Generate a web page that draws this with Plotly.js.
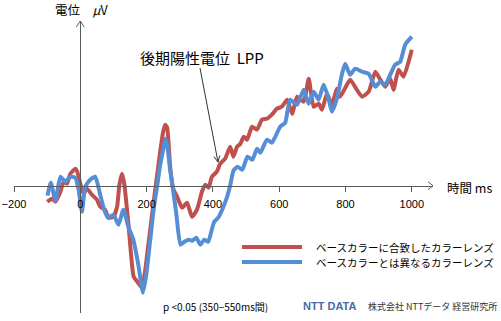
<!DOCTYPE html>
<html>
<head>
<meta charset="utf-8">
<script src="https://cdn.plot.ly/plotly-3.0.1.min.js"></script>
<style>html,body{margin:0;padding:0;background:#fff;}#chart{width:501px;height:321px;}</style>
</head>
<body>
<div id="chart"></div>
<script>
// ---- data (time in ms, potential in µV) ----
const redTime = [-100,-85,-75,-60,-50,-40,-30,-15,-9,0,10,20,35,50,60,75,85,100,111,118,126,133,146,161,172,186,196,206,221,232,241,250,256,262,271,281,292,307,322,337,352,367,377,387,397,412,422,437,452,462,473,483,493,503,518,533,548,563,578,593,608,624,639,654,674,689,704,719,729,744,759,774,784,814,834,850,870,890,905,920,935,945,960,975,1000];
const redUV = [-1.6,-1.3,-1.6,-0.6,0.4,0.2,1.2,1.7,1.4,0.2,-0.8,-0.3,-0.9,-1.4,-2.1,-2.4,-3.2,-3.1,-2.1,0.1,1.2,0.1,-4.1,-9.1,-9.6,-10.2,-8.4,-5.7,-1.7,1.1,3.4,5.4,6.1,5.8,1.9,-0.4,-1.1,-2.2,-1.7,-3.1,-2.4,-0.6,0.1,-0.2,0.9,1.4,2.2,2.7,3.9,2.9,3.9,4.2,4.9,4.6,5.9,5.6,6.6,6.7,7.1,7.7,7.9,8.6,7.2,8.9,8.4,10.7,7.9,8.2,7.6,9.2,8.1,9.7,8.9,10.6,9.6,8.9,9.4,11.4,10.6,9.9,10.7,9.6,11.6,10.9,13.6];
const blueTime = [-99,-89,-75,-60,-45,-30,-15,-5,5,15,30,45,60,72,84,100,115,130,145,160,175,189,199,211,223,232,241,250,256,262,271,281,290,302,314,326,338,350,362,374,386,395,404,416,428,440,452,462,474,489,504,519,533,543,563,578,603,618,633,654,674,689,704,719,734,749,759,774,789,799,814,829,850,870,890,905,920,935,950,965,980,1000];
const blueUV = [-1.0,0.3,-1.5,0.9,0.4,0.9,0.8,-0.4,-2.6,-0.1,0.6,0.9,-0.9,-2.4,-3.2,-2.9,-3.9,-2.4,-4.1,-5.4,-7.9,-10.7,-8.9,-5.4,-1.9,0.0,2.1,3.6,4.7,4.1,1.6,-0.7,-2.9,-5.9,-5.6,-5.4,-5.5,-5.2,-5.9,-5.4,-5.6,-4.6,-3.6,-3.2,-2.4,-1.4,0.0,1.5,1.9,1.6,2.9,2.6,3.7,3.3,4.6,4.3,5.9,6.3,8.6,8.1,9.6,8.2,9.4,8.6,10.1,8.7,7.4,8.7,11.1,12.2,11.1,11.7,11.4,11.2,9.9,10.4,10.1,11.1,12.1,12.4,14.1,14.9];
const seriesNames = ["ベースカラーに合致したカラーレンズ", "ベースカラーとは異なるカラーレンズ"];
const tickVals = [-200,0,200,400,600,800,1000];
const tickText = ["−200","0","200","400","600","800","1000"];

// ---- layout helpers ----
const L=14, R=68, T=21, B=8, PW=501-L-R, PH=321-T-B;
const XR=[-200,1064], YR=[-12.73,16.47];
const px=x=>(x-L)/PW, py=y=>(321-B-y)/PH;
const RED='#C0504D', BLUE='#558ED5', AX='#5a5a5a';
const JP='"Noto Sans CJK JP", sans-serif';
const NUM='"Liberation Sans", Arial, sans-serif';

const traces=[
 {x:redTime,y:redUV,name:seriesNames[0],type:'scatter',mode:'lines',line:{color:RED,width:4,shape:'spline',smoothing:0.5}},
 {x:blueTime,y:blueUV,name:seriesNames[1],type:'scatter',mode:'lines',line:{color:BLUE,width:4,shape:'spline',smoothing:0.5}}
];

function path(pts){return pts.map((p,i)=>(i?'L':'M')+px(p[0]).toFixed(5)+','+py(p[1]).toFixed(5)).join(' ');}
// arrow for LPP
const a0=[200,68], a1=[218,162];
const dx=a1[0]-a0[0], dy=a1[1]-a0[1], dl=Math.hypot(dx,dy), ux=dx/dl, uy=dy/dl;
const bx=a1[0]-6*ux, by=a1[1]-6*uy;
const w1=[bx+3*uy, by-3*ux], w2=[bx-3*uy, by+3*ux];

const shapes=[
 {type:'path',xref:'paper',yref:'paper',path:path([[428,181.7],[433,185.7],[428,189.7]]),line:{color:AX,width:1}},
 {type:'path',xref:'paper',yref:'paper',path:path([[76.3,27],[80.3,21],[84.3,27]]),line:{color:AX,width:1}},
 {type:'path',xref:'paper',yref:'paper',path:path([a0,a1]),line:{color:'#333',width:1}},
 {type:'path',xref:'paper',yref:'paper',path:path([w1,a1,w2]),line:{color:'#333',width:1}},
 {type:'path',xref:'paper',yref:'paper',path:path([[242,247],[302,247]]),line:{color:RED,width:4}},
 {type:'path',xref:'paper',yref:'paper',path:path([[242,262],[302,262]]),line:{color:BLUE,width:4}}
];

function ann(text,x,y,size,opts){return Object.assign({text:text,x:px(x),y:py(y),xref:'paper',yref:'paper',xanchor:'left',yanchor:'middle',showarrow:false,font:{family:JP,size:size,color:'#000'}},opts||{});}
const annotations=[
 ann('電位　<i>μ</i>V',53,10,12.5),
 ann('後期陽性電位  LPP',138,57,15),
 ann('時間 ms',445,187,12.5),
 ann(seriesNames[0],314,247,10.5),
 ann(seriesNames[1],314,262,10.5),
 ann('p <0.05 (350−550ms間)',161,306,10),
 ann('<b>NTT DATA</b>',301,306,11,{font:{family:NUM,size:11,color:'#4a6aa8'}}),
 ann('株式会社 NTTデータ 経営研究所',499,306,9,{xanchor:'right',font:{family:JP,size:9,color:'#333'}})
];

const layout={
 width:501,height:321,margin:{l:L,r:R,t:T,b:B,pad:0},
 paper_bgcolor:'#fff',plot_bgcolor:'rgba(0,0,0,0)',showlegend:false,
 xaxis:{range:XR,anchor:'free',position:(0-YR[0])/(YR[1]-YR[0]),showline:true,linecolor:AX,linewidth:1,
   showgrid:false,zeroline:false,tickvals:tickVals,ticktext:tickText,ticks:'outside',ticklen:5,tickcolor:AX,
   ticklabelstandoff:3,tickfont:{family:NUM,size:11,color:'#000'}},
 yaxis:{range:YR,anchor:'free',position:(0-XR[0])/(XR[1]-XR[0]),showline:true,linecolor:AX,linewidth:1,
   showgrid:false,zeroline:false,showticklabels:false,ticks:''},
 shapes:shapes,annotations:annotations
};
Plotly.newPlot('chart',traces,layout,{staticPlot:true,displayModeBar:false});
</script>
</body>
</html>
